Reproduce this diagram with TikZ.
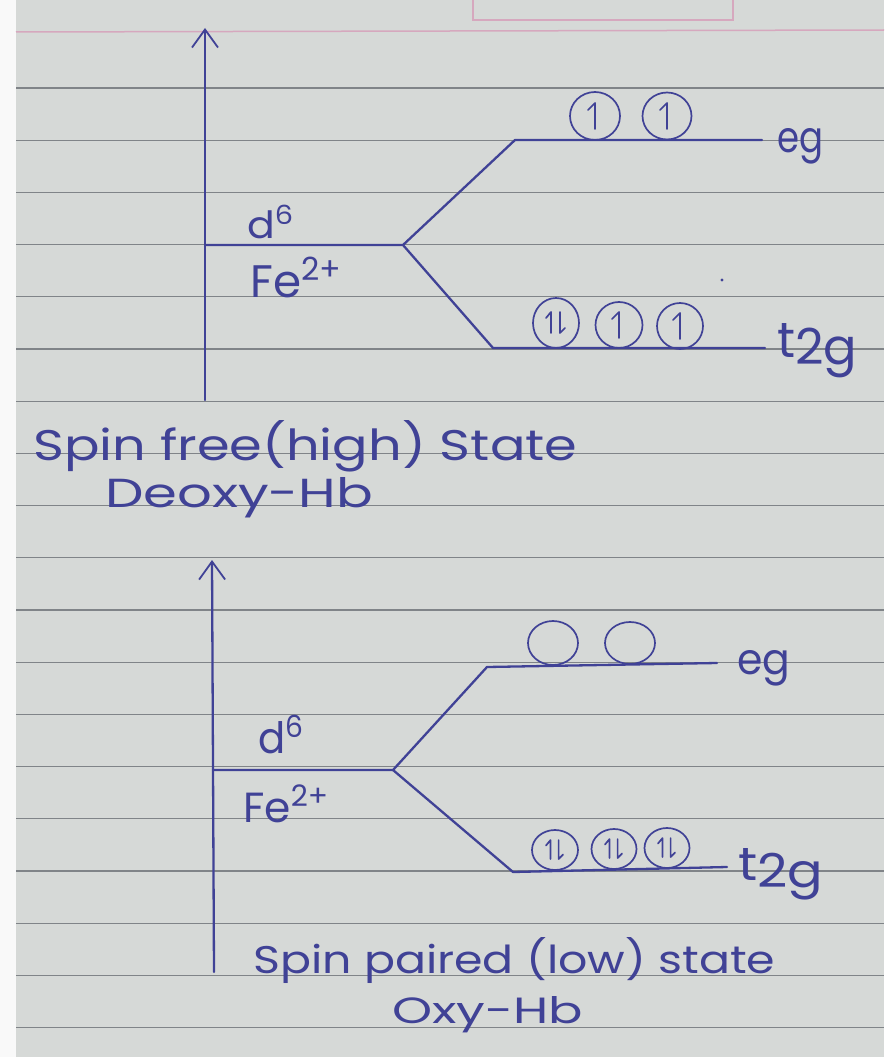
\documentclass[tikz,border=0pt]{standalone}
\usepackage{fontspec}
\setmainfont{Poppins}
\usetikzlibrary{arrows.meta,shapes.geometric}
\definecolor{ink}{RGB}{64,66,150}
\definecolor{paper}{RGB}{214,217,215}
\definecolor{ruling}{RGB}{128,132,136}
\definecolor{pinkrule}{RGB}{214,168,190}
\begin{document}
\begin{tikzpicture}[x=1pt,y=-1pt,
  pen/.style={draw=ink,line width=2.3pt,line cap=round,line join=round},
  axisline/.style={pen,-{Straight Barb[length=18pt,width=26pt,line width=1.8pt]}},
  orb/.style={draw=ink,ellipse,line width=1.7pt,inner sep=0pt},
  stroke/.style={draw=ink,line width=1.7pt,line cap=round,line join=round},
  hand/.style={text=ink,inner sep=0pt,anchor=base west},
  uph/.pic={\draw[stroke] (0,13) -- (0,-13) -- (-7,-6);},
  pairh/.pic={\draw[stroke] (-5,10) -- (-5,-11) -- (-10,-5);
              \draw[stroke] (4,-11) -- (4,10) -- (9,5);}
]
\useasboundingbox (0,0) rectangle (884,1057);
% paper
\fill[white!85!paper] (0,0) rectangle (884,1057);
\fill[paper] (16,0) rectangle (884,1057);
\draw[pinkrule,line width=1.5pt] (473,-2) -- (473,20) -- (733,20) -- (733,-2);
\draw[pinkrule,line width=1.5pt] (16,32) -- (884,30);
\foreach \k in {0,...,18}
  \draw[ruling,line width=1.1pt] (16,{88+52.2*\k}) -- (884,{88+52.2*\k});

% ---------- top diagram (high spin) ----------
\coordinate (axAbot) at (205,400);
\coordinate (axAtop) at (205,28);
\draw[axisline] (axAbot) -- (axAtop);
\coordinate (dA) at (205,245);
\coordinate (sA) at (403,245);
\coordinate (egAa) at (515,140);
\coordinate (egAb) at (762,140);
\coordinate (tAa) at (493,348);
\coordinate (tAb) at (765,348);
\draw[pen] (dA) -- (sA) -- (egAa) -- (egAb);
\draw[pen] (sA) -- (tAa) -- (tAb);

\node[orb,minimum width=50pt,minimum height=48pt] (eA1) at (595,116) {};
\node[orb,minimum width=49pt,minimum height=47pt] (eA2) at (667,116) {};
\pic at (eA1.center) {uph};
\pic at (eA2.center) {uph};
\node[orb,minimum width=46pt,minimum height=50pt] (tA1) at (556,323) {};
\node[orb,minimum width=47pt,minimum height=46pt] (tA2) at (619,325) {};
\node[orb,minimum width=46pt,minimum height=46pt] (tA3) at (680,326) {};
\pic at (tA1.center) {pairh};
\pic at (tA2.center) {uph};
\pic at (tA3.center) {uph};
\fill[ink] (722,280) circle (1.6pt);

\node[hand] (dlabA) at (247,238) {\resizebox{48pt}{33pt}{d\textsuperscript{6}}};
\node[hand] (felabA) at (250,297) {\resizebox{93pt}{40pt}{Fe\textsuperscript{2+}}};
\node[hand] (eglabA) at (777,152) {\resizebox{46pt}{24pt}{eg}};
\node[hand] (tlabA) at (777,357) {\resizebox{80pt}{34pt}{t\raisebox{-0.15em}{2g}}};

\node[hand] (titleA) at (33,460) {\resizebox{544pt}{40pt}{Spin free(high) State}};
\node[hand] (subA) at (105,507) {\resizebox{268pt}{30pt}{Deoxy-Hb}};

% ---------- bottom diagram (low spin) ----------
\coordinate (axBbot) at (214,972);
\coordinate (axBtop) at (212,560);
\draw[axisline] (axBbot) -- (axBtop);
\coordinate (dB) at (213,770);
\coordinate (sB) at (393,770);
\coordinate (egBa) at (487,667);
\coordinate (egBb) at (717,663);
\coordinate (tBa) at (513,872);
\coordinate (tBb) at (727,867);
\draw[pen] (dB) -- (sB) -- (egBa) -- (egBb);
\draw[pen] (sB) -- (tBa) -- (tBb);

\node[orb,minimum width=50pt,minimum height=44pt] (eB1) at (553,643) {};
\node[orb,minimum width=50pt,minimum height=42pt] (eB2) at (630,643) {};
\node[orb,minimum width=46pt,minimum height=40pt] (tB1) at (555,850) {};
\node[orb,minimum width=45pt,minimum height=40pt] (tB2) at (614,849) {};
\node[orb,minimum width=45pt,minimum height=40pt] (tB3) at (667,848) {};
\pic[scale=0.9] at (tB1.center) {pairh};
\pic[scale=0.9] at (tB2.center) {pairh};
\pic[scale=0.9] at (tB3.center) {pairh};

\node[hand] (dlabB) at (258,753) {\resizebox{47pt}{38pt}{d\textsuperscript{6}}};
\node[hand] (felabB) at (243,822) {\resizebox{87pt}{37pt}{Fe\textsuperscript{2+}}};
\node[hand] (eglabB) at (737,674) {\resizebox{53pt}{24pt}{eg}};
\node[hand] (tlabB) at (738,880) {\resizebox{85pt}{32pt}{t\raisebox{-0.15em}{2g}}};

\node[hand] (titleB) at (253,973) {\resizebox{522pt}{36pt}{Spin paired (low) state}};
\node[hand] (subB) at (392,1023) {\resizebox{191pt}{27pt}{Oxy-Hb}};
\end{tikzpicture}
\end{document}
